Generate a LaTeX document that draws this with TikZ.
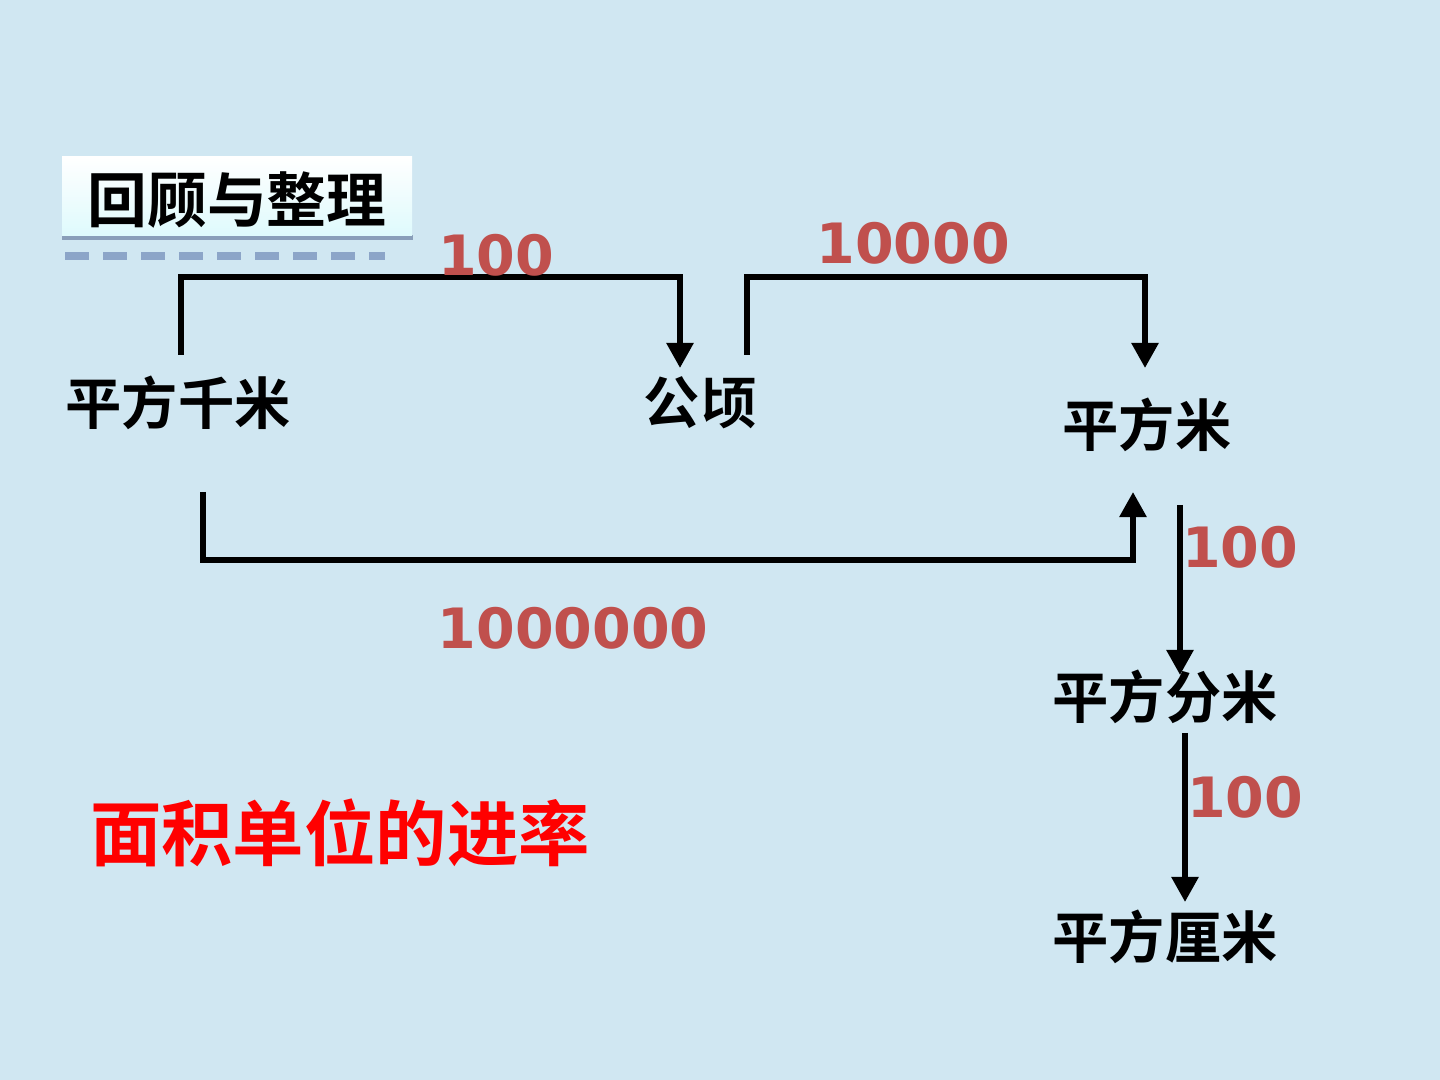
\documentclass[tikz,border=0pt]{standalone}
\usepackage{fontspec}
\newfontfamily\cjk{Noto Sans CJK SC}[BoldFont={* Bold}]
\newfontfamily\num{DejaVu Sans}
\usetikzlibrary{arrows.meta,positioning}
\definecolor{bg}{RGB}{208,231,242}
\definecolor{numred}{RGB}{192,80,77}
\definecolor{dashblue}{RGB}{140,165,200}
\begin{document}
\begin{tikzpicture}[x=0.01cm,y=-0.01cm,
    unit/.style={font=\cjk\bfseries\fontsize{16}{18}\selectfont, inner sep=0pt},
    rate/.style={font=\num\bfseries\fontsize{15.8}{17}\selectfont, text=numred, inner sep=0pt},
    blk/.style={draw, black, line width=1.6pt, -{Triangle[width=0.26cm,length=0.25cm]}}]
    \fill[bg] (0,0) rectangle (1440,1080);
    \useasboundingbox (0,0) rectangle (1440,1080);

    % title
    \fill[dashblue!80!gray] (62,235) rectangle (413,240);
    \shade[top color=white, bottom color=bg!70!cyan!30] (62,157) rectangle (412,236);
    \node[font=\cjk\bfseries\fontsize{17}{19}\selectfont] (title) at (237,200) {回顾与整理};
    \draw[dashblue, line width=2.5pt, dash pattern=on 0.24cm off 0.14cm] (65,256) -- (385,256);

    % units
    \node[unit] (km) at (178,403) {平方千米};
    \node[unit] (ha) at (700,403) {公顷};
    \node[unit] (m) at (1147,425) {平方米};
    \node[unit] (dm) at (1165,697) {平方分米};
    \node[unit] (cm) at (1165,937) {平方厘米};

    % end points
    \coordinate (a1) at (181,355); \coordinate (a2) at (680,368);
    \coordinate (b1) at (747,355); \coordinate (b2) at (1145,368);
    \coordinate (c1) at (203,492); \coordinate (c2) at (1133,492);
    \coordinate (d1) at (1180,505); \coordinate (d2) at (1180,675);
    \coordinate (e1) at (1185,733); \coordinate (e2) at (1185,902);

    \draw[blk] (a1) |- (680,277) -- (a2);
    \draw[blk] (b1) |- (1145,277) -- (b2);
    \draw[blk] (c1) |- (1133,560) -- (c2);
    \draw[blk] (d1) -- (d2);
    \draw[blk] (e1) -- (e2);

    % rates
    \node[rate] (r1) at (496,255) {100};
    \node[rate] (r2) at (913,243) {10000};
    \node[rate] (r3) at (573,628) {1000000};
    \node[rate] (r4) at (1240,547) {100};
    \node[rate] (r5) at (1245,797) {100};

    \node[font=\cjk\bfseries\fontsize{20.3}{23}\selectfont, text=red] (rule) at (340,833) {面积单位的进率};
\end{tikzpicture}
\end{document}
